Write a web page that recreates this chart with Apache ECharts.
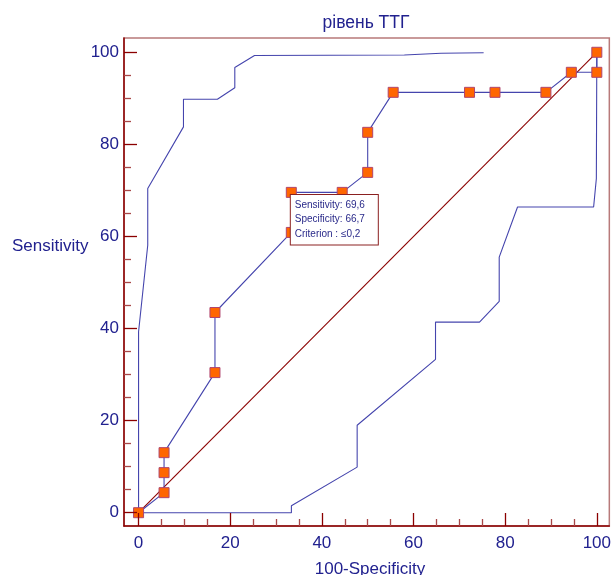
<!DOCTYPE html>
<html>
<head>
<meta charset="utf-8">
<script src="https://cdn.jsdelivr.net/npm/echarts@6/dist/echarts.min.js"></script>
<style>
html,body{margin:0;padding:0;background:#fff;}
#c{width:614px;height:575px;}
</style>
</head>
<body>
<div id="c"></div>
<script>
// ---- data ----
const titleText = 'рівень ТТГ';
const xName = '100-Specificity';
const yName = 'Sensitivity';
const majorTicks = [0, 20, 40, 60, 80, 100];
const minorTicks = [5, 10, 15, 25, 30, 35, 45, 50, 55, 65, 70, 75, 85, 90, 95];
const rocX = [0, 5.56, 5.56, 5.56, 16.67, 16.67, 33.33, 33.33, 44.44, 50, 50, 55.56, 72.22, 77.78, 88.89, 94.44, 100, 100];
const rocY = [0, 4.35, 8.70, 13.04, 30.43, 43.48, 60.87, 69.57, 69.57, 73.91, 82.61, 91.30, 91.30, 91.30, 91.30, 95.65, 95.65, 100];
const upperX = [0, 0, 2.0, 2.0, 9.8, 9.8, 17.2, 21.0, 21.0, 25.3, 58, 66, 75.3];
const upperY = [0, 39.3, 58.1, 70.4, 83.8, 89.8, 89.8, 92.3, 96.7, 99.3, 99.4, 99.8, 99.9];
const lowerX = [0, 33.35, 33.35, 47.7, 47.7, 64.8, 64.8, 74.4, 78.7, 78.7, 82.7, 99.3, 99.9, 100];
const lowerY = [0, 0, 1.5, 9.9, 19.0, 33.3, 41.4, 41.4, 45.9, 55.5, 66.4, 66.4, 72.6, 100];
const diagX = [0, 100];
const diagY = [0, 100];
const criterionIndex = 7;
const tooltipLines = ['Sensitivity: 69,6', 'Specificity: 66,7', 'Criterion : \u22640,2'];

// ---- styles ----
const NAVY = '#21218f';
const LINE = '#4545ad';
const AXIS = '#8b0000';
const FONT = '"Liberation Sans", Arial, sans-serif';

const zip = (xs, ys) => xs.map((x, i) => [x, ys[i]]);

const rocData = zip(rocX, rocY).map((p, i) => {
  if (i !== criterionIndex) return p;
  return {
    value: p,
    label: {
      show: true,
      position: [5, 8],
      formatter: tooltipLines.join('\n'),
      color: '#2a2a8a',
      fontFamily: FONT,
      fontSize: 10,
      lineHeight: 14.5,
      backgroundColor: '#ffffff',
      borderColor: '#8b2020',
      borderWidth: 1,
      padding: [3, 3, 3, 4],
      width: 80,
      align: 'left',
      verticalAlign: 'top'
    }
  };
});

const chart = echarts.init(document.getElementById('c'), null, {renderer: 'canvas'});

const xMin = -3.18, xMax = 102.73, yMin = -2.89, yMax = 103.1;

function majorAxis(extra) {
  return Object.assign({
    type: 'value', min: 0, max: 0, gridIndex: 0,
    splitLine: {show: false},
    axisLine: {show: true, onZero: false, lineStyle: {color: AXIS, width: 1.5}},
    axisTick: {show: true, inside: true, length: 13, customValues: majorTicks, lineStyle: {color: AXIS, width: 1.3}},
    z: 5
  }, extra);
}
function minorAxis(extra) {
  return Object.assign({
    type: 'value', min: 0, max: 0, gridIndex: 0,
    splitLine: {show: false},
    axisLine: {show: false, onZero: false},
    axisTick: {show: true, inside: true, length: 7, customValues: minorTicks, lineStyle: {color: '#a84848', width: 1.3}},
    axisLabel: {show: false},
    z: 5
  }, extra);
}

chart.setOption({
  animation: false,
  backgroundColor: '#ffffff',
  title: {
    text: titleText,
    left: 361, top: 9,
    textAlign: 'center',
    textStyle: {color: NAVY, fontSize: 17.5, fontWeight: 'normal', fontFamily: FONT}
  },
  grid: {
    left: 124, top: 38, right: 1, bottom: 49,
    show: true, borderColor: '#b87a7a', borderWidth: 1.5, backgroundColor: 'transparent'
  },
  xAxis: [
    majorAxis({position: 'bottom', min: xMin, max: xMax, axisLabel: {show: true, customValues: majorTicks, color: NAVY, fontSize: 17, fontFamily: FONT, margin: 9}}),
    minorAxis({position: 'bottom', min: xMin, max: xMax})
  ],
  yAxis: [
    majorAxis({position: 'left', min: yMin, max: yMax, axisLabel: {show: true, customValues: majorTicks, color: NAVY, fontSize: 17, fontFamily: FONT, margin: 5}}),
    minorAxis({position: 'left', min: yMin, max: yMax})
  ],
  graphic: [
    {type: 'text', left: 12, top: 238, style: {text: yName, fill: NAVY, font: '17px ' + FONT}},
    {type: 'text', x: 370, y: 569, style: {text: xName, fill: NAVY, font: '17px ' + FONT, align: 'center', verticalAlign: 'middle'}}
  ],
  series: [
    {
      type: 'line', data: zip(diagX, diagY), symbol: 'none', silent: true,
      itemStyle: {color: '#8b0000'},
      lineStyle: {color: '#8b0000', width: 1.1}, z: 1
    },
    {
      type: 'line', data: zip(upperX, upperY), symbol: 'none', silent: true,
      lineStyle: {color: LINE, width: 1.1}, z: 2
    },
    {
      type: 'line', data: zip(lowerX, lowerY), symbol: 'none', silent: true,
      lineStyle: {color: LINE, width: 1.1}, z: 2
    },
    {
      type: 'line', data: rocData, symbol: 'rect', symbolSize: 10, showAllSymbol: true,
      lineStyle: {color: LINE, width: 1.1},
      itemStyle: {color: '#ff6600', borderColor: '#b0456e', borderWidth: 1},
      z: 3
    }
  ]
});
</script>
</body>
</html>
